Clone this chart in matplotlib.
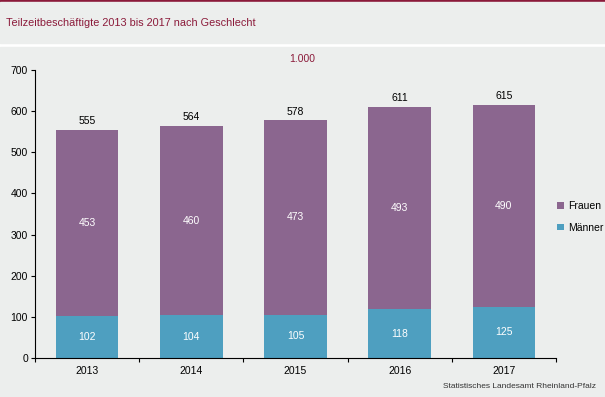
import numpy as np
import matplotlib
matplotlib.use("Agg")
import matplotlib.pyplot as plt
from matplotlib.patches import Rectangle

plt.rcParams['font.family'] = ['Liberation Sans', 'DejaVu Sans']

years = ['2013', '2014', '2015', '2016', '2017']
maenner = [102, 104, 105, 118, 125]
frauen = [453, 460, 473, 493, 490]
totals = [555, 564, 578, 611, 615]

c_frauen = '#8b668f'
c_maenner = '#4e9fc0'
c_bg = '#eceeed'
c_red = '#8b1a3a'

W, H = 605, 397
fig = plt.figure(figsize=(W / 100, H / 100), dpi=100, facecolor='white')

# background bands
fig.patches.append(Rectangle((0, 1 - 2 / H), 1, 2 / H, transform=fig.transFigure, color=c_red, zorder=-10))
fig.patches.append(Rectangle((0, 1 - 43 / H), 1, 41 / H, transform=fig.transFigure, color=c_bg, zorder=-10))
fig.patches.append(Rectangle((0, 0), 1, 1 - 47 / H, transform=fig.transFigure, color=c_bg, zorder=-10))

fig.text(6 / W, 1 - 23 / H, 'Teilzeitbeschäftigte 2013 bis 2017 nach Geschlecht',
         color=c_red, fontsize=7.8, va='center', ha='left')
fig.text(302 / W, 1 - 59 / H, '1.000', color=c_red, fontsize=7.5, va='center', ha='center')
fig.text(596 / W, 1 - 386 / H, 'Statistisches Landesamt Rheinland-Pfalz',
         color='#333333', fontsize=6, va='center', ha='right')

ax = fig.add_axes([35 / W, (H - 358) / H, (556 - 35) / W, (358 - 70) / H])
ax.set_facecolor('none')

x = np.arange(len(years))
bw = 0.6
ax.bar(x, maenner, bw, color=c_maenner, label='Männer')
ax.bar(x, frauen, bw, bottom=maenner, color=c_frauen, label='Frauen')

for i in range(len(years)):
    ax.text(x[i], maenner[i] / 2, str(maenner[i]), color='white', ha='center', va='center', fontsize=7.5)
    ax.text(x[i], maenner[i] + frauen[i] / 2, str(frauen[i]), color='white', ha='center', va='center', fontsize=7.5)
    ax.text(x[i], totals[i] + 21, str(totals[i]), color='black', ha='center', va='center', fontsize=7.5)

ax.set_xlim(-0.5, len(years) - 0.5)
ax.set_ylim(0, 700)
ax.set_yticks(range(0, 701, 100))
ax.set_xticks(x)
ax.set_xticklabels(years)
ax.set_xticks(np.arange(-0.5, len(years), 1), minor=True)
ax.tick_params(axis='x', which='major', length=0, labelsize=7.5, pad=6)
ax.tick_params(axis='x', which='minor', length=3, width=0.8)
ax.tick_params(axis='y', length=3, width=0.8, labelsize=7.5, pad=2)
for s in ['top', 'right']:
    ax.spines[s].set_visible(False)
for s in ['left', 'bottom']:
    ax.spines[s].set_linewidth(0.8)

handles, labels = ax.get_legend_handles_labels()
fig.legend(handles[::-1], labels[::-1], loc='center left', bbox_to_anchor=(548 / W, 1 - 217 / H),
           frameon=False, fontsize=7.5, handlelength=0.6, handleheight=0.6, labelspacing=1.1,
           handletextpad=0.4)

fig.savefig('out.png', dpi=100, facecolor=fig.get_facecolor())
